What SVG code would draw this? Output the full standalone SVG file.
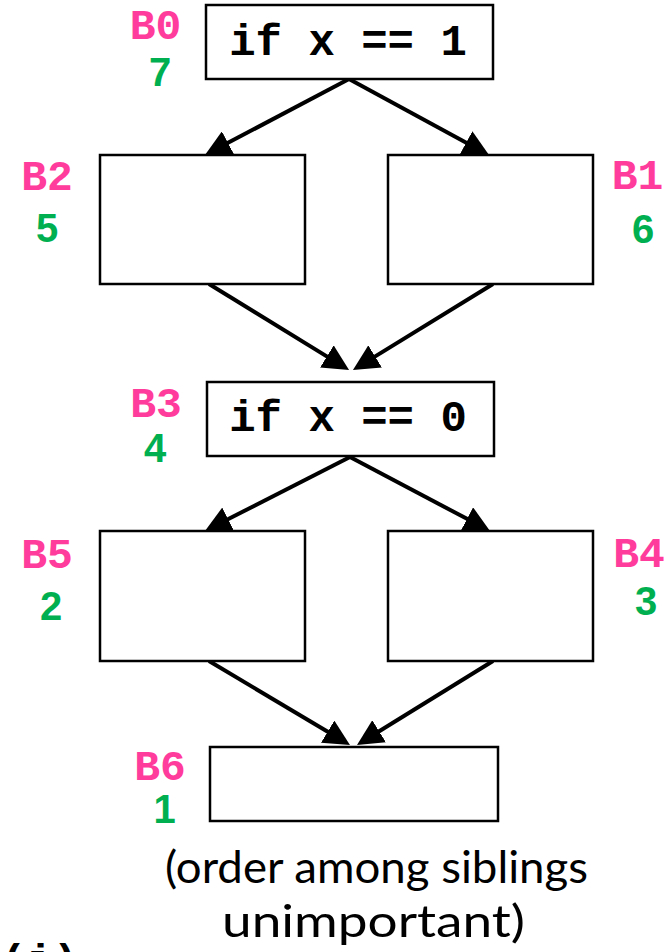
<svg xmlns="http://www.w3.org/2000/svg" width="669" height="952" viewBox="0 0 669 952">
<style>
.box{fill:#fff;stroke:#000;stroke-width:2.5}
.code{font-family:"Liberation Mono","Courier New",monospace;font-weight:bold;font-size:44px;fill:#000}
.blk{font-family:"Liberation Mono","Courier New",monospace;font-weight:bold;font-size:43px;fill:#FF3C9C}
.num{font-family:"Liberation Sans",Arial,sans-serif;font-weight:bold;font-size:40px;fill:#00B050}
.cap{font-family:Lato,"Open Sans",sans-serif;font-size:44px;fill:#000}
.edge{stroke:#000;stroke-width:4;fill:none;marker-end:url(#ah)}
</style>
<defs>
<marker id="ah" markerUnits="userSpaceOnUse" markerWidth="26" markerHeight="26" refX="8" refY="13" orient="auto" viewBox="0 0 26 26">
<path d="M0,0 L26,13 L0,26 z" fill="#000"/>
</marker>
</defs>
<rect width="669" height="952" fill="#fff"/>
<g id="connectors">
<line class="edge" x1="349" y1="79" x2="220.9" y2="146.6"/>
<line class="edge" x1="349" y1="79" x2="473.2" y2="146.4"/>
<line class="edge" x1="209" y1="284" x2="333.7" y2="360.6"/>
<line class="edge" x1="493" y1="284" x2="368.3" y2="360.6"/>
<line class="edge" x1="350" y1="457" x2="221" y2="522.8"/>
<line class="edge" x1="350" y1="457" x2="474.1" y2="522.6"/>
<line class="edge" x1="209" y1="661" x2="334.5" y2="735.8"/>
<line class="edge" x1="493" y1="661" x2="372.3" y2="735.5"/>
</g>
<g id="B0">
<rect class="box" x="206" y="5" width="287" height="74"/>
<text class="code" x="348" y="55" text-anchor="middle">if x == 1</text>
<text class="blk" x="155.5" y="39" text-anchor="middle">B0</text>
<text class="num" x="160" y="86" text-anchor="middle">7</text>
</g>
<g id="B2">
<rect class="box" x="100" y="155" width="205" height="129"/>
<text class="blk" x="47" y="190" text-anchor="middle">B2</text>
<text class="num" x="47" y="242" text-anchor="middle">5</text>
</g>
<g id="B1">
<rect class="box" x="388" y="155" width="205" height="129"/>
<text class="blk" x="637.5" y="189" text-anchor="middle">B1</text>
<text class="num" x="643" y="243" text-anchor="middle">6</text>
</g>
<g id="B3">
<rect class="box" x="207" y="382" width="287" height="74"/>
<text class="code" x="348" y="431" text-anchor="middle">if x == 0</text>
<text class="blk" x="156" y="417" text-anchor="middle">B3</text>
<text class="num" x="155" y="462" text-anchor="middle">4</text>
</g>
<g id="B5">
<rect class="box" x="100" y="531" width="205" height="130"/>
<text class="blk" x="47" y="568" text-anchor="middle">B5</text>
<text class="num" x="51" y="620" text-anchor="middle">2</text>
</g>
<g id="B4">
<rect class="box" x="388" y="531" width="205" height="130"/>
<text class="blk" x="639" y="567" text-anchor="middle">B4</text>
<text class="num" x="646" y="615" text-anchor="middle">3</text>
</g>
<g id="B6">
<rect class="box" x="210" y="747" width="288" height="74"/>
<text class="blk" x="160" y="780" text-anchor="middle">B6</text>
<text class="num" x="164.5" y="823" text-anchor="middle">1</text>
</g>
<g id="caption">
<text class="cap" x="165" y="883" textLength="423" lengthAdjust="spacingAndGlyphs">(order among siblings</text>
<text class="cap" x="222" y="937" textLength="303" lengthAdjust="spacingAndGlyphs">unimportant)</text>
<text class="code" x="0" y="975">(i)</text>
</g>
</svg>
